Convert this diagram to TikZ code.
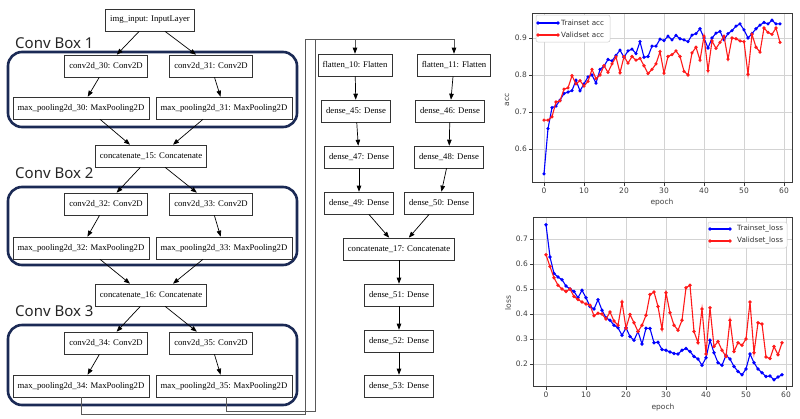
\documentclass[tikz,border=0pt]{standalone}
\usepackage{fontspec}
\setmainfont{Liberation Serif}
\newfontfamily\boxfont{Noto Sans}
\newfontfamily\plotfont{DejaVu Sans}
\usetikzlibrary{arrows.meta}
\definecolor{navy}{HTML}{1B2A55}
\definecolor{gridgray}{HTML}{D3D3D3}
\definecolor{axgray}{HTML}{3A3A3A}
\definecolor{mblue}{HTML}{0000FF}
\definecolor{mred}{HTML}{FF1A1A}
\begin{document}
\begin{tikzpicture}[x=1pt,y=-1pt,
  nnbox/.style={draw=black!80, line width=0.6pt, fill=white,
    font=\fontsize{8.7}{10}\selectfont, inner xsep=4.5pt, inner ysep=0pt,
    minimum height=22pt},
  arr/.style={draw=black, line width=0.7pt, -{Triangle[length=6pt,width=4.5pt]}},
  connarrow/.style={draw=black!65, line width=0.7pt, -{Triangle[length=6pt,width=4.5pt,color=black]}},
  convbox/.style={draw=navy, line width=2.6pt, rounded corners=14pt},
  boxlabel/.style={font=\boxfont\fontsize{15}{17}\selectfont, anchor=base west, inner sep=0pt, text=black!85},
  ticklab/.style={font=\plotfont\fontsize{7.5}{8}\selectfont, text=black!75, inner sep=0pt},
  axlab/.style={font=\plotfont\fontsize{7.5}{8}\selectfont, text=black!75, inner sep=0pt},
  legtext/.style={font=\plotfont\fontsize{7.2}{8}\selectfont, text=black!80, inner sep=0pt, anchor=west},
  legbox/.style={draw=black!20, line width=0.5pt, fill=white, rounded corners=2pt},
  gridline/.style={draw=gridgray, line width=0.6pt},
  axframe/.style={draw=axgray, line width=0.7pt},
  tickmark/.style={draw=axgray, line width=0.6pt},
  trainline/.style={draw=mblue, line width=1.1pt, mark=*, mark size=1pt, mark options={fill=mblue, draw=mblue}},
  validline/.style={draw=mred, line width=1.1pt, mark=*, mark size=1pt, mark options={fill=mred, draw=mred}},
]
\useasboundingbox (0,0) rectangle (800,418);
\fill[white] (0,0) rectangle (800,418);

% ---------------- conv boxes ----------------
\draw[convbox] (8,52) rectangle (297,127);
\draw[convbox] (8,187) rectangle (297,265);
\draw[convbox] (8,325) rectangle (297,405);
\node[boxlabel] (lab1) at (15,48) {Conv Box 1};
\node[boxlabel] (lab2) at (15,178) {Conv Box 2};
\node[boxlabel] (lab3) at (15,316) {Conv Box 3};

% ---------------- left nodes ----------------
\node[nnbox] (img) at (150,20) {img\_input: InputLayer};
\node[nnbox] (c30) at (106,66) {conv2d\_30: Conv2D};
\node[nnbox] (c31) at (211,66) {conv2d\_31: Conv2D};
\node[nnbox] (mp30) at (81,108) {max\_pooling2d\_30: MaxPooling2D};
\node[nnbox] (mp31) at (224,108) {max\_pooling2d\_31: MaxPooling2D};
\node[nnbox] (cc15) at (151,156) {concatenate\_15: Concatenate};
\node[nnbox] (c32) at (106,204) {conv2d\_32: Conv2D};
\node[nnbox] (c33) at (211,204) {conv2d\_33: Conv2D};
\node[nnbox] (mp32) at (81,248) {max\_pooling2d\_32: MaxPooling2D};
\node[nnbox] (mp33) at (224,248) {max\_pooling2d\_33: MaxPooling2D};
\node[nnbox] (cc16) at (151,295) {concatenate\_16: Concatenate};
\node[nnbox] (c34) at (106,343) {conv2d\_34: Conv2D};
\node[nnbox] (c35) at (211,343) {conv2d\_35: Conv2D};
\node[nnbox] (mp34) at (81,386) {max\_pooling2d\_34: MaxPooling2D};
\node[nnbox] (mp35) at (224,386) {max\_pooling2d\_35: MaxPooling2D};

% ---------------- middle nodes ----------------
\node[nnbox] (fl10) at (355,65) {flatten\_10: Flatten};
\node[nnbox] (fl11) at (454,65) {flatten\_11: Flatten};
\node[nnbox] (d45) at (356,111) {dense\_45: Dense};
\node[nnbox] (d46) at (450,111) {dense\_46: Dense};
\node[nnbox] (d47) at (359,157) {dense\_47: Dense};
\node[nnbox] (d48) at (449,157) {dense\_48: Dense};
\node[nnbox] (d49) at (359,203) {dense\_49: Dense};
\node[nnbox] (d50) at (439,203) {dense\_50: Dense};
\node[nnbox] (cc17) at (399,249) {concatenate\_17: Concatenate};
\node[nnbox] (d51) at (399,295) {dense\_51: Dense};
\node[nnbox] (d52) at (399,341) {dense\_52: Dense};
\node[nnbox] (d53) at (399,386) {dense\_53: Dense};

% ---------------- left edges ----------------
\draw[arr] (img) -- (c30);
\draw[arr] (img) -- (c31);
\draw[arr] (c30) -- (mp30);
\draw[arr] (c31) -- (mp31);
\draw[arr] ([xshift=19pt]mp30.south) -- ([xshift=-21pt]cc15.north);
\draw[arr] ([xshift=-21pt]mp31.south) -- ([xshift=22pt]cc15.north);
\draw[arr] (cc15) -- (c32);
\draw[arr] (cc15) -- (c33);
\draw[arr] (c32) -- (mp32);
\draw[arr] (c33) -- (mp33);
\draw[arr] ([xshift=19pt]mp32.south) -- ([xshift=-21pt]cc16.north);
\draw[arr] ([xshift=-21pt]mp33.south) -- ([xshift=22pt]cc16.north);
\draw[arr] (cc16) -- (c34);
\draw[arr] (cc16) -- (c35);
\draw[arr] (c34) -- (mp34);
\draw[arr] (c35) -- (mp35);

% ---------------- long connectors ----------------
\coordinate (b1) at (305,414);
\coordinate (t1) at (305,39);
\coordinate (b2) at (315,411);
\coordinate (t2) at (315,39);
\draw[connarrow] (mp34.south) |- (b1) -- (t1) -| (fl11.north);
\draw[connarrow] ([xshift=2pt]mp35.south) |- (b2) -- (t2) -| (fl10.north);

% ---------------- middle edges ----------------
\draw[arr] (fl10) -- (d45);
\draw[arr] (fl11) -- (d46);
\draw[arr] (d45) -- (d47);
\draw[arr] (d46) -- (d48);
\draw[arr] (d47) -- (d49);
\draw[arr] (d48) -- (d50);
\draw[arr] (d49) -- (cc17);
\draw[arr] (d50) -- (cc17);
\draw[arr] (cc17) -- (d51);
\draw[arr] (d51) -- (d52);
\draw[arr] (d52) -- (d53);

% ---------------- accuracy plot ----------------
\begin{scope}[shift={(544pt,-371pt)}, x=4pt, y=370pt]
  \foreach \e in {0,10,...,60} \draw[gridline] (\e,0.5108) -- (\e,0.9676);
  \foreach \v in {0.6,0.7,0.8,0.9} \draw[gridline] (-3,\v) -- (62,\v);
  \draw[axframe] (-3,0.5108) rectangle (62,0.9676);
  \foreach \e in {0,10,...,60} {
    \draw[tickmark] (\e,0.5108) -- ++(0,-3.5pt);
    \node[ticklab, anchor=north, yshift=-5.5pt] (accx\e) at (\e,0.5108) {\e};
  }
  \foreach \v [count=\i] in {0.6,0.7,0.8,0.9} {
    \draw[tickmark] (-3,\v) -- ++(-3.5pt,0);
    \node[ticklab, anchor=east, xshift=-5pt] (accy\i) at (-3,\v) {\v};
  }
  \draw[trainline] plot coordinates {(0,.533)(1,.655)(2,.712)(3,.716)(4,.732)(5,.750)(6,.754)(7,.758)(8,.786)(9,.757)(10,.776)(11,.795)(12,.800)(13,.778)(14,.815)(15,.824)(16,.842)(17,.838)(18,.853)(19,.867)(20,.848)(21,.865)(22,.870)(23,.858)(24,.890)(25,.848)(26,.850)(27,.878)(28,.878)(29,.897)(30,.893)(31,.905)(32,.895)(33,.907)(34,.898)(35,.895)(36,.890)(37,.908)(38,.912)(39,.925)(40,.900)(41,.873)(42,.900)(43,.913)(44,.918)(45,.895)(46,.912)(47,.920)(48,.932)(49,.938)(50,.922)(51,.900)(52,.912)(53,.925)(54,.935)(55,.942)(56,.938)(57,.948)(58,.938)(59,.938)};
  \draw[validline] plot coordinates {(0,.678)(1,.678)(2,.687)(3,.727)(4,.730)(5,.762)(6,.765)(7,.798)(8,.776)(9,.785)(10,.770)(11,.783)(12,.815)(13,.790)(14,.800)(15,.825)(16,.807)(17,.830)(18,.849)(19,.806)(20,.850)(21,.832)(22,.850)(23,.840)(24,.845)(25,.825)(26,.804)(27,.815)(28,.830)(29,.863)(30,.805)(31,.850)(32,.855)(33,.865)(34,.850)(35,.810)(36,.800)(37,.860)(38,.875)(39,.840)(40,.905)(41,.812)(42,.892)(43,.872)(44,.888)(45,.905)(46,.843)(47,.900)(48,.898)(49,.892)(50,.890)(51,.802)(52,.910)(53,.875)(54,.862)(55,.927)(56,.915)(57,.910)(58,.927)(59,.888)};
\end{scope}
\node[axlab] (accxl) at (662,202) {epoch};
\node[axlab, rotate=90] (accyl) at (507,100) {acc};
\draw[legbox] (536,15) rectangle (610,42);
\draw[trainline] plot coordinates {(538,23) (558,23)};
\draw[validline] plot coordinates {(538,35) (558,35)};
\node[legtext] (lg1) at (561,23) {Trainset acc};
\node[legtext] (lg2) at (561,35) {Validset acc};

% ---------------- loss plot ----------------
\begin{scope}[shift={(546pt,-414pt)}, x=4pt, y=250pt]
  \foreach \e in {0,10,...,60} \draw[gridline] (\e,0.112) -- (\e,0.788);
  \foreach \v in {0.2,0.3,0.4,0.5,0.6,0.7} \draw[gridline] (-3.25,\v) -- (61.5,\v);
  \draw[axframe] (-3.25,0.112) rectangle (61.5,0.788);
  \foreach \e in {0,10,...,60} {
    \draw[tickmark] (\e,0.112) -- ++(0,-3.5pt);
    \node[ticklab, anchor=north, yshift=-5.5pt] (lossx\e) at (\e,0.112) {\e};
  }
  \foreach \v [count=\i] in {0.2,0.3,0.4,0.5,0.6,0.7} {
    \draw[tickmark] (-3.25,\v) -- ++(-3.5pt,0);
    \node[ticklab, anchor=east, xshift=-5pt] (lossy\i) at (-3.25,\v) {\v};
  }
  \draw[trainline] plot coordinates {(0,.757)(1,.628)(2,.562)(3,.548)(4,.537)(5,.512)(6,.500)(7,.490)(8,.465)(9,.495)(10,.465)(11,.430)(12,.420)(13,.457)(14,.415)(15,.385)(16,.375)(17,.355)(18,.345)(19,.315)(20,.345)(21,.310)(22,.295)(23,.330)(24,.280)(25,.343)(26,.342)(27,.285)(28,.287)(29,.258)(30,.255)(31,.248)(32,.242)(33,.240)(34,.255)(35,.262)(36,.250)(37,.230)(38,.220)(39,.195)(40,.225)(41,.295)(42,.245)(43,.205)(44,.195)(45,.235)(46,.220)(47,.190)(48,.170)(49,.157)(50,.180)(51,.240)(52,.205)(53,.180)(54,.165)(55,.150)(56,.152)(57,.137)(58,.148)(59,.157)};
  \draw[validline] plot coordinates {(0,.637)(1,.590)(2,.545)(3,.515)(4,.500)(5,.490)(6,.500)(7,.470)(8,.458)(9,.448)(10,.440)(11,.435)(12,.393)(13,.403)(14,.400)(15,.380)(16,.408)(17,.372)(18,.355)(19,.448)(20,.343)(21,.398)(22,.365)(23,.330)(24,.355)(25,.395)(26,.478)(27,.488)(28,.430)(29,.340)(30,.485)(31,.405)(32,.355)(33,.335)(34,.375)(35,.505)(36,.515)(37,.330)(38,.285)(39,.420)(40,.240)(41,.425)(42,.270)(43,.290)(44,.255)(45,.230)(46,.375)(47,.250)(48,.285)(49,.275)(50,.300)(51,.448)(52,.245)(53,.365)(54,.360)(55,.228)(56,.222)(57,.270)(58,.237)(59,.285)};
\end{scope}
\node[axlab] (lossxl) at (663,407) {epoch};
\node[axlab, rotate=90] (lossyl) at (508,303) {loss};
\draw[legbox] (708,222) rectangle (787,248);
\draw[trainline] plot coordinates {(710,229) (730,229)};
\draw[validline] plot coordinates {(710,241) (730,241)};
\node[legtext] (lg3) at (737,229) {Trainset\_loss};
\node[legtext] (lg4) at (737,241) {Validset\_loss};
\end{tikzpicture}
\end{document}
